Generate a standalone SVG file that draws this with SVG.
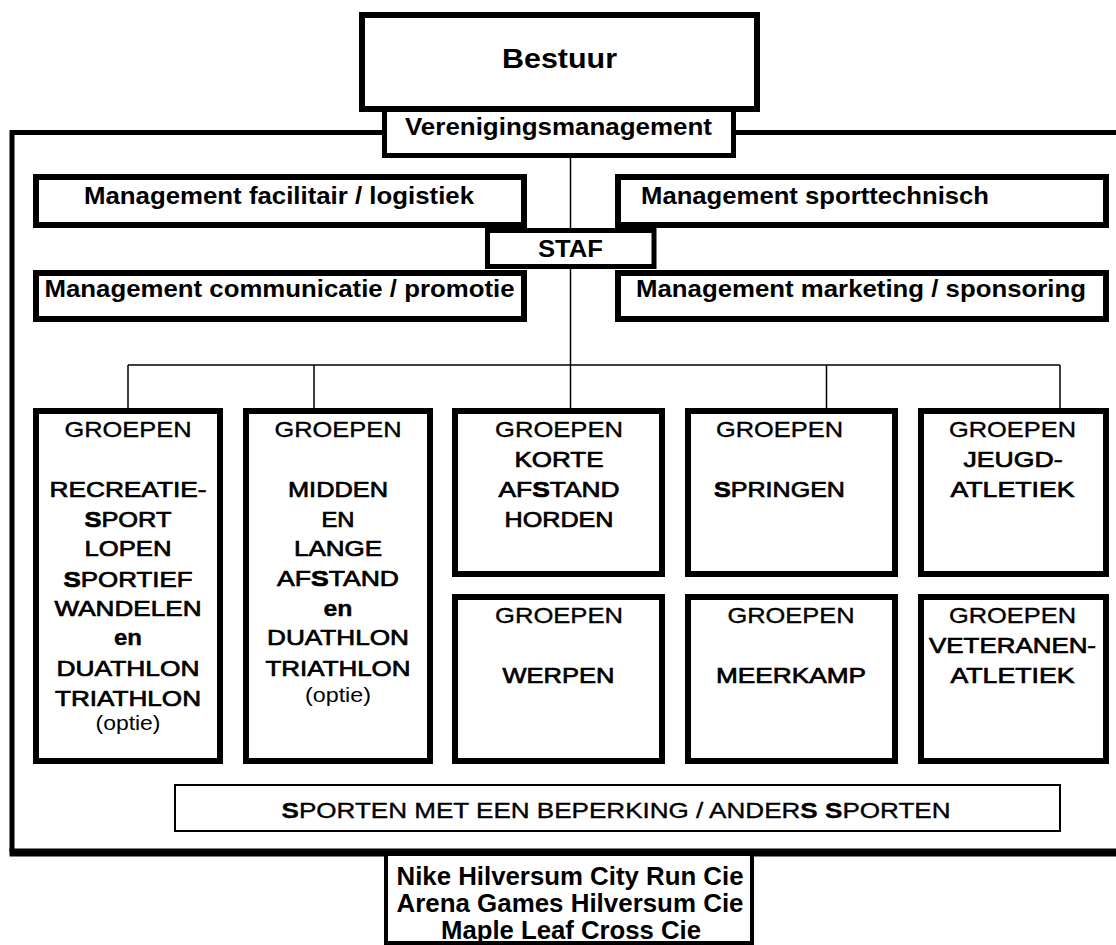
<svg xmlns="http://www.w3.org/2000/svg" width="1116" height="945" viewBox="0 0 1116 945">
<style>
.bg{fill:#fff}
.box{fill:#fff;stroke:#000;stroke-width:6}
.mbox{fill:#fff;stroke:#000;stroke-width:5}
.thin{fill:#fff;stroke:#000;stroke-width:2}
.frame{fill:none;stroke:#000;stroke-width:5}
.con{fill:none;stroke:#000;stroke-width:1.5}
text{font-family:"Liberation Sans",Arial,Helvetica,sans-serif;fill:#000;text-anchor:middle}
.b{font-weight:bold}
.h{font-size:24px;font-weight:bold}
.g{font-size:22px;stroke:#000;stroke-width:0.35}
.k{font-size:22px;stroke:#000;stroke-width:0.7}
.o{font-size:20px}
.c{font-size:25px;font-weight:bold}
</style>
<rect class="bg" x="0" y="0" width="1116" height="945"/>
<g id="frame">
<path class="frame" d="M1130,132.5 H12 V852"/>
<path d="M9.5,852.5 H1130" stroke="#000" stroke-width="8" fill="none"/>
</g>
<g id="connectors">
<path class="con" d="M570.5,158 V228"/>
<path class="con" d="M570.5,269 V408"/>
<path class="con" d="M128,365 H1060"/>
<path class="con" d="M128,365 V408 M314,365 V408 M826.5,365 V408 M1060,365 V408"/>
</g>
<g id="verenigingsmanagement">
<rect class="mbox" x="384.5" y="109.5" width="349" height="46"/>
<text class="h" x="558.5" y="135" textLength="307" lengthAdjust="spacingAndGlyphs">Verenigingsmanagement</text>
</g>
<g id="bestuur">
<rect class="box" x="362" y="15" width="395" height="94"/>
<text class="b" x="559.5" y="68" font-size="28" textLength="115" lengthAdjust="spacingAndGlyphs">Bestuur</text>
</g>
<g id="facilitair">
<rect class="box" x="36" y="177" width="488" height="48"/>
<text class="h" x="279" y="204" textLength="390" lengthAdjust="spacingAndGlyphs">Management facilitair / logistiek</text>
</g>
<g id="sporttechnisch">
<rect class="box" x="618" y="177" width="488" height="48"/>
<text class="h" x="815" y="204" textLength="348" lengthAdjust="spacingAndGlyphs">Management sporttechnisch</text>
</g>
<g id="staf">
<rect class="mbox" x="487.5" y="230.5" width="166.5" height="36"/>
<text class="h" x="570.5" y="257" textLength="65" lengthAdjust="spacingAndGlyphs">STAF</text>
</g>
<g id="communicatie">
<rect class="box" x="36" y="273" width="488" height="46"/>
<text class="h" x="279.5" y="297" textLength="470" lengthAdjust="spacingAndGlyphs">Management communicatie / promotie</text>
</g>
<g id="marketing">
<rect class="box" x="618" y="273" width="488" height="46"/>
<text class="h" x="861" y="297" textLength="450" lengthAdjust="spacingAndGlyphs">Management marketing / sponsoring</text>
</g>
<g id="groep-recreatie">
<rect class="box" x="36" y="411" width="184" height="350"/>
<text class="g" x="128" y="437" textLength="127" lengthAdjust="spacingAndGlyphs">GROEPEN</text>
<text class="k" x="128" y="497" textLength="157" lengthAdjust="spacingAndGlyphs">RECREATIE-</text>
<text class="k" x="128" y="527" textLength="87" lengthAdjust="spacingAndGlyphs"><tspan class="b">S</tspan>PORT</text>
<text class="k" x="128" y="556" textLength="87" lengthAdjust="spacingAndGlyphs">LOPEN</text>
<text class="k" x="128" y="587" textLength="129" lengthAdjust="spacingAndGlyphs"><tspan class="b">S</tspan>PORTIEF</text>
<text class="k" x="128" y="616" textLength="147" lengthAdjust="spacingAndGlyphs">WANDELEN</text>
<text class="g b" x="128" y="645" textLength="28" lengthAdjust="spacingAndGlyphs">en</text>
<text class="k" x="128" y="676" textLength="143" lengthAdjust="spacingAndGlyphs">DUATHLON</text>
<text class="k" x="128" y="706" textLength="146" lengthAdjust="spacingAndGlyphs">TRIATHLON</text>
<text class="o" x="128" y="730" textLength="65" lengthAdjust="spacingAndGlyphs">(optie)</text>
</g>
<g id="groep-midden-lange">
<rect class="box" x="246" y="411" width="184" height="350"/>
<text class="g" x="338" y="437" textLength="127" lengthAdjust="spacingAndGlyphs">GROEPEN</text>
<text class="k" x="338" y="497" textLength="100" lengthAdjust="spacingAndGlyphs">MIDDEN</text>
<text class="k" x="338" y="527" textLength="33" lengthAdjust="spacingAndGlyphs">EN</text>
<text class="k" x="338" y="556" textLength="88" lengthAdjust="spacingAndGlyphs">LANGE</text>
<text class="k" x="338" y="586" textLength="122" lengthAdjust="spacingAndGlyphs">AF<tspan class="b">S</tspan>TAND</text>
<text class="g b" x="338" y="616" textLength="29" lengthAdjust="spacingAndGlyphs">en</text>
<text class="k" x="338" y="645" textLength="142" lengthAdjust="spacingAndGlyphs">DUATHLON</text>
<text class="k" x="338" y="676" textLength="145" lengthAdjust="spacingAndGlyphs">TRIATHLON</text>
<text class="o" x="338" y="702" textLength="66" lengthAdjust="spacingAndGlyphs">(optie)</text>
</g>
<g id="groep-korte">
<rect class="box" x="455" y="411" width="207" height="163"/>
<text class="g" x="559" y="437" textLength="128" lengthAdjust="spacingAndGlyphs">GROEPEN</text>
<text class="k" x="559" y="467" textLength="89" lengthAdjust="spacingAndGlyphs">KORTE</text>
<text class="k" x="559" y="497" textLength="121" lengthAdjust="spacingAndGlyphs">AF<tspan class="b">S</tspan>TAND</text>
<text class="k" x="559" y="527" textLength="109" lengthAdjust="spacingAndGlyphs">HORDEN</text>
</g>
<g id="groep-springen">
<rect class="box" x="688" y="411" width="207" height="163"/>
<text class="g" x="779.5" y="437" textLength="127" lengthAdjust="spacingAndGlyphs">GROEPEN</text>
<text class="k" x="779.5" y="497" textLength="131" lengthAdjust="spacingAndGlyphs"><tspan class="b">S</tspan>PRINGEN</text>
</g>
<g id="groep-jeugd">
<rect class="box" x="921" y="411" width="185" height="163"/>
<text class="g" x="1012.5" y="437" textLength="127" lengthAdjust="spacingAndGlyphs">GROEPEN</text>
<text class="k" x="1013" y="467" textLength="99" lengthAdjust="spacingAndGlyphs">JEUGD-</text>
<text class="k" x="1012.5" y="497" textLength="124" lengthAdjust="spacingAndGlyphs">ATLETIEK</text>
</g>
<g id="groep-werpen">
<rect class="box" x="455" y="597" width="207" height="164"/>
<text class="g" x="559" y="623" textLength="128" lengthAdjust="spacingAndGlyphs">GROEPEN</text>
<text class="k" x="558.5" y="683" textLength="112" lengthAdjust="spacingAndGlyphs">WERPEN</text>
</g>
<g id="groep-meerkamp">
<rect class="box" x="688" y="597" width="207" height="164"/>
<text class="g" x="791" y="623" textLength="127" lengthAdjust="spacingAndGlyphs">GROEPEN</text>
<text class="k" x="791" y="683" textLength="150" lengthAdjust="spacingAndGlyphs">MEERKAMP</text>
</g>
<g id="groep-veteranen">
<rect class="box" x="921" y="597" width="185" height="164"/>
<text class="g" x="1012.5" y="623" textLength="127" lengthAdjust="spacingAndGlyphs">GROEPEN</text>
<text class="k" x="1012.5" y="653" textLength="167" lengthAdjust="spacingAndGlyphs">VETERANEN-</text>
<text class="k" x="1012.5" y="683" textLength="124" lengthAdjust="spacingAndGlyphs">ATLETIEK</text>
</g>
<g id="sporten-beperking">
<rect class="thin" x="175" y="785" width="885" height="46"/>
<text class="g" x="616" y="818" font-size="23" textLength="669" lengthAdjust="spacingAndGlyphs"><tspan class="b">S</tspan>PORTEN MET EEN BEPERKING / ANDER<tspan class="b">S</tspan> <tspan class="b">S</tspan>PORTEN</text>
</g>
<g id="commissies">
<rect fill="#fff" stroke="#000" stroke-width="4" x="386" y="854" width="366" height="89"/>
<text class="c" x="570" y="885" textLength="347" lengthAdjust="spacingAndGlyphs">Nike Hilversum City Run Cie</text>
<text class="c" x="570" y="912" textLength="347" lengthAdjust="spacingAndGlyphs">Arena Games Hilversum Cie</text>
<text class="c" x="571" y="939" textLength="260" lengthAdjust="spacingAndGlyphs">Maple Leaf Cross Cie</text>
</g>
</svg>
